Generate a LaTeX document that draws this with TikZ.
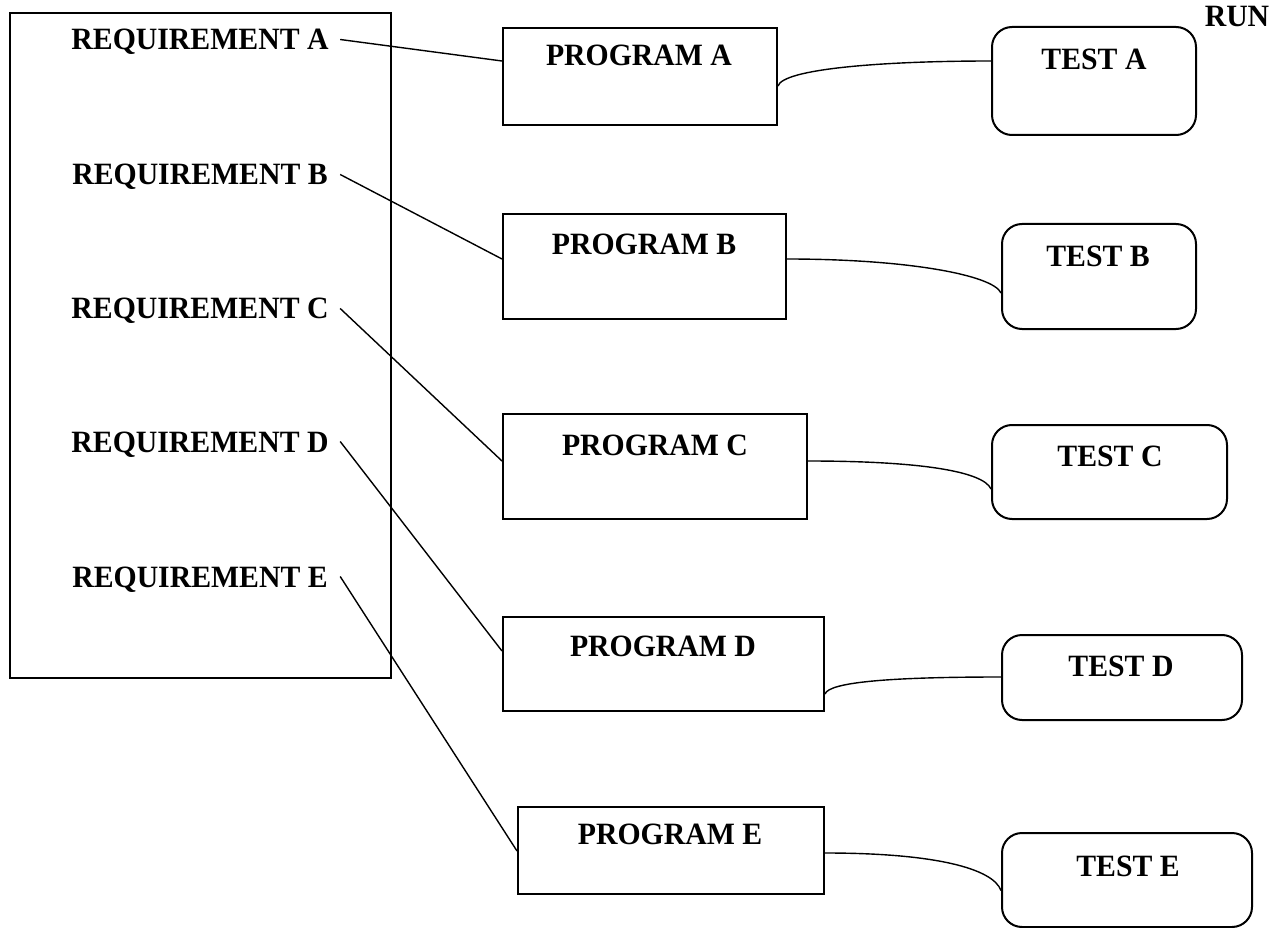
\documentclass[tikz,border=0pt]{standalone}
\usepackage{fontspec}
\setmainfont[FakeStretch=0.96]{Liberation Serif}
\begin{document}
\begin{tikzpicture}[x=1pt,y=-1pt,
  txt/.style={font=\fontsize{31}{34}\selectfont\bfseries, text height=21pt, text depth=0pt, inner sep=0pt, anchor=center},
  reqlabel/.style={txt, minimum width=280pt},
  progbox/.style={draw, line width=2pt, anchor=north west, inner sep=0pt},
  testbox/.style={draw, line width=2pt, rounded corners=20pt, anchor=north west, inner sep=0pt},
  link/.style={line width=1.4pt}
]
\useasboundingbox (0,0) rectangle (1278,928);
% requirements frame
\node[draw, line width=2pt, anchor=north west, minimum width=381pt, minimum height=665pt, inner sep=0pt] (frame) at (9,12) {};
% requirement labels
\node[reqlabel] (rA) at (200,39.5) {REQUIREMENT A};
\node[reqlabel] (rB) at (200,174.5) {REQUIREMENT B};
\node[reqlabel] (rC) at (200,308.5) {REQUIREMENT C};
\node[reqlabel] (rD) at (200,441.5) {REQUIREMENT D};
\node[reqlabel] (rE) at (200,576.5) {REQUIREMENT E};
% program boxes
\node[progbox, minimum width=274pt, minimum height=97pt] (pA) at (502,27) {};
\node[progbox, minimum width=283pt, minimum height=105pt] (pB) at (502,213) {};
\node[progbox, minimum width=304pt, minimum height=105pt] (pC) at (502,413) {};
\node[progbox, minimum width=321pt, minimum height=94pt] (pD) at (502,616) {};
\node[progbox, minimum width=306pt, minimum height=87pt] (pE) at (517,806) {};
\node[txt] (pAt) at (639,55.5) {PROGRAM A};
\node[txt] (pBt) at (644,244.5) {PROGRAM B};
\node[txt] (pCt) at (655,444.5) {PROGRAM C};
\node[txt] (pDt) at (663,645.5) {PROGRAM D};
\node[txt] (pEt) at (670,833.5) {PROGRAM E};
% test boxes
\node[testbox, minimum width=204pt, minimum height=108pt] (tA) at (991,26) {};
\node[testbox, minimum width=194pt, minimum height=105pt] (tB) at (1001,223) {};
\node[testbox, minimum width=235pt, minimum height=94pt] (tC) at (991,424) {};
\node[testbox, minimum width=240pt, minimum height=85pt] (tD) at (1001,634) {};
\node[testbox, minimum width=250pt, minimum height=94pt] (tE) at (1001,832) {};
\node[txt] (tAt) at (1094,59.5) {TEST A};
\node[txt] (tBt) at (1098,256.5) {TEST B};
\node[txt] (tCt) at (1110,455.5) {TEST C};
\node[txt] (tDt) at (1121,665.5) {TEST D};
\node[txt] (tEt) at (1128,865.5) {TEST E};
\node[txt] (run) at (1237,16.5) {RUN};
% requirement -> program
\draw[link] (rA.east) -- ([yshift=15.5pt]pA.west);
\draw[link] (rB.east) -- ([yshift=7.5pt]pB.west);
\draw[link] (rC.east) -- ([yshift=5.5pt]pC.west);
\draw[link] (rD.east) -- ([yshift=13pt]pD.west);
\draw[link] (rE.east) -- ([yshift=-0.5pt]pE.west);
% program -> test
\draw[link] ([yshift=-9.5pt]pA.east) .. controls +(5,-17) and +(-110,0) .. ([yshift=20pt]tA.west);
\draw[link] ([yshift=7.5pt]pB.east) .. controls +(120,0) and +(-8,-18) .. ([yshift=-16.5pt]tB.west);
\draw[link] ([yshift=5.5pt]pC.east) .. controls +(110,0) and +(-8,-18) .. ([yshift=-17pt]tC.west);
\draw[link] ([yshift=-30pt]pD.east) .. controls +(4,-12) and +(-110,0) .. ([yshift=0.5pt]tD.west);
\draw[link] ([yshift=-2.5pt]pE.east) .. controls +(110,0) and +(-8,-22) .. ([yshift=-10.5pt]tE.west);
\end{tikzpicture}
\end{document}
